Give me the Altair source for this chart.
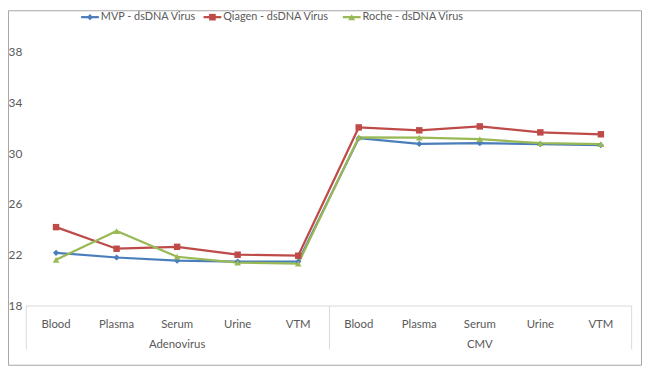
import altair as alt
import pandas as pd

# ---- data ----
samples = ["Blood", "Plasma", "Serum", "Urine", "VTM"]
groups = ["Adenovirus", "CMV"]
series = ["MVP - dsDNA Virus", "Qiagen - dsDNA Virus", "Roche - dsDNA Virus"]
mvp = [22.15, 21.78, 21.53, 21.46, 21.46, 31.17, 30.72, 30.78, 30.70, 30.62]
qiagen = [24.17, 22.47, 22.62, 22.00, 21.92, 32.02, 31.79, 32.10, 31.63, 31.48]
roche = [21.60, 23.86, 21.84, 21.38, 21.30, 31.24, 31.22, 31.09, 30.78, 30.70]
y_ticks = [18, 22, 26, 30, 34, 38]

values_by_series = [mvp, qiagen, roche]
colors = ["#4A7EBB", "#BE4B48", "#98B954"]
shapes = ["diamond", "square", "triangle-up"]
sizes = [40, 45, 50]
FONT = "Lato"
TXT = "#595959"

W, H = 613, 283

rows = []
for s, vals in zip(series, values_by_series):
    for i, v in enumerate(vals):
        rows.append({"series": s, "pos": i + 0.5, "value": v,
                     "sample": samples[i % 5], "group": groups[i // 5]})
df = pd.DataFrame(rows)

sample_df = pd.DataFrame({"pos": [i + 0.5 for i in range(10)],
                          "sample": [samples[i % 5] for i in range(10)]})
group_df = pd.DataFrame({"pos": [2.5, 7.5], "group": groups})

xscale = alt.Scale(domain=[0, 10], nice=False, zero=False)
yscale = alt.Scale(domain=[18, 40], nice=False, zero=False)
color_scale = alt.Scale(domain=series, range=colors)
shape_scale = alt.Scale(domain=series, range=shapes)

base = alt.Chart(df)

lines = base.mark_line(strokeWidth=2.25).encode(
    x=alt.X("pos:Q", scale=xscale,
            axis=alt.Axis(values=[0, 5, 10], tickSize=44, labels=False, title=None,
                          grid=False, domainColor="#d9d9d9", tickColor="#d9d9d9",
                          domainWidth=1, tickWidth=1)),
    y=alt.Y("value:Q", scale=yscale,
            axis=alt.Axis(values=y_ticks, domain=False, ticks=False, grid=False,
                          labelColor=TXT, labelFontSize=12, labelFont=FONT,
                          labelPadding=4, title=None)),
    color=alt.Color("series:N", scale=color_scale, legend=None),
    detail="series:N",
)

pts = base.mark_point(filled=True, opacity=1).encode(
    x=alt.X("pos:Q", scale=xscale),
    y=alt.Y("value:Q", scale=yscale),
    color=alt.Color("series:N", scale=color_scale, legend=None),
    shape=alt.Shape("series:N", scale=shape_scale, legend=None),
    size=alt.Size("series:N", scale=alt.Scale(domain=series, range=sizes), legend=None),
)

sample_text = alt.Chart(sample_df).mark_text(
    font=FONT, fontSize=11.5, color=TXT, baseline="middle", align="center"
).encode(x=alt.X("pos:Q", scale=xscale), y=alt.value(303), text="sample:N")

group_text = alt.Chart(group_df).mark_text(
    font=FONT, fontSize=11.5, color=TXT, baseline="middle", align="center"
).encode(x=alt.X("pos:Q", scale=xscale), y=alt.value(323), text="group:N")

# custom legend (line + marker + label)
legend_x = [56, 180, 321]
legend_layers = []
ly = -9
for s, c, sh, sz, lx in zip(series, colors, shapes, sizes, legend_x):
    ldf = pd.DataFrame({"label": [s]})
    legend_layers.append(alt.Chart(ldf).mark_rule(color=c, strokeWidth=2.25).encode(
        x=alt.value(lx), x2=alt.value(lx + 18), y=alt.value(ly)))
    legend_layers.append(alt.Chart(ldf).mark_point(
        filled=True, opacity=1, color=c, shape=sh, size=sz).encode(
        x=alt.value(lx + 9), y=alt.value(ly)))
    legend_layers.append(alt.Chart(ldf).mark_text(
        font=FONT, fontSize=11, color=TXT, align="left", baseline="middle").encode(
        x=alt.value(lx + 20), y=alt.value(ly), text="label:N"))

frame = alt.Chart(pd.DataFrame({"a": [0]})).mark_rect(
    fill=None, stroke="#a6a6a6", strokeWidth=1).encode(
    x=alt.value(-17.5), x2=alt.value(W + 10.5), y=alt.value(-15.5), y2=alt.value(H + 60.5))

chart = alt.layer(frame, lines, pts, sample_text, group_text, *legend_layers).properties(
    width=W, height=H,
    autosize=alt.AutoSizeParams(type="none"),
    padding={"left": 18, "top": 16, "right": 11, "bottom": 61},
    background="white",
).configure_view(stroke=None)

chart.save("out.html", embed_options={"renderer": "svg", "actions": False})
